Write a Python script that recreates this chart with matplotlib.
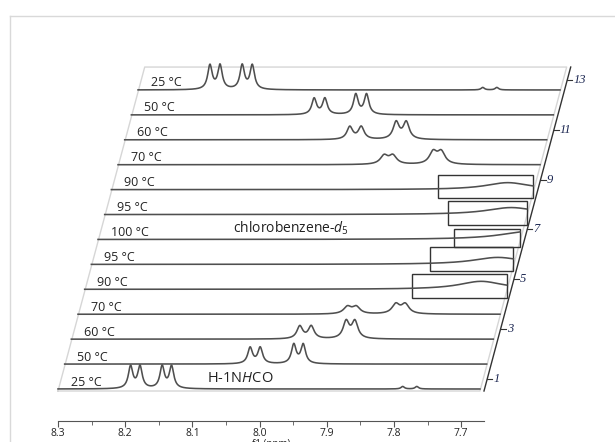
import numpy as np
import matplotlib.pyplot as plt
from matplotlib import transforms
from matplotlib.lines import Line2D
from matplotlib.patches import Rectangle

plt.rcParams['font.family'] = ['Open Sans', 'DejaVu Sans']
plt.rcParams['mathtext.fontset'] = 'custom'
plt.rcParams['mathtext.rm'] = 'Open Sans'
plt.rcParams['mathtext.it'] = 'Open Sans:italic'

# trace labels, bottom to top
temps = ['25 °C', '50 °C', '60 °C', '70 °C', '90 °C', '95 °C', '100 °C',
         '95 °C', '90 °C', '70 °C', '60 °C', '50 °C', '25 °C']

# peak list per trace: position (ppm), height (px), half width (ppm)
peak_pos = [
    [8.192, 8.178, 8.145, 8.131, 7.787, 7.766],
    [8.024, 8.009, 7.959, 7.945],
    [7.960, 7.943, 7.891, 7.878],
    [7.899, 7.886, 7.827, 7.813],
    [7.710],
    [7.695],
    [7.660],
    [7.695],
    [7.710],
    [7.904, 7.891, 7.831, 7.819],
    [7.965, 7.948, 7.896, 7.881],
    [8.028, 8.012, 7.966, 7.950],
    [8.193, 8.178, 8.145, 8.130, 7.787, 7.766],
]
peak_amp = [
    [22, 22, 22, 22, 2.5, 2.5],
    [16, 16, 19, 19],
    [12.5, 12.5, 17, 17],
    [7, 7, 9.5, 9.5],
    [8],
    [7],
    [8],
    [7],
    [7],
    [8.5, 8.5, 12, 12],
    [12.5, 12.5, 17, 17],
    [16, 16, 20, 20],
    [24, 24, 24, 24, 2.5, 2.5],
]
peak_wid = [
    [0.004, 0.004, 0.004, 0.004, 0.003, 0.003],
    [0.0042, 0.0042, 0.0042, 0.0042],
    [0.0052, 0.0052, 0.0054, 0.0054],
    [0.0068, 0.0068, 0.0068, 0.0068],
    [0.04],
    [0.045],
    [0.05],
    [0.045],
    [0.04],
    [0.0068, 0.0068, 0.0068, 0.0068],
    [0.0052, 0.0052, 0.0054, 0.0054],
    [0.0042, 0.0042, 0.0042, 0.0042],
    [0.004, 0.004, 0.004, 0.004, 0.003, 0.003],
]

# highlighted regions (trace index, left ppm, bottom/top px rel. to baseline)
box_trace = [4, 5, 6, 7, 8]
box_left = [7.813, 7.796, 7.770, 7.789, 7.814]
box_low = [-9, -7, -8, -10, -8]
box_high = [15, 17, 10, 14, 15]

offset_ticks = [1, 3, 5, 7, 9, 11, 13]

PPM_MAX, PPM_MIN, PPM_END = 8.30, 7.666, 7.672
DX, DY = 6.67, 24.92
W, H = 615, 442

fig = plt.figure(figsize=(W / 100, H / 100), dpi=100)
ax = fig.add_axes([58 / W, 21 / H, 426 / W, 381 / H])
ax.set_xlim(PPM_MAX, PPM_MIN)
ax.set_ylim(-32, 349)
ax.patch.set_visible(False)


def shifted(k):
    return transforms.offset_copy(ax.transData, fig=fig, x=k * DX, y=k * DY, units='dots')


def disp(ppm, yv, k):
    return shifted(k).transform((ppm, yv))


ppm = np.linspace(PPM_MAX, PPM_END, 1500)
for k in range(len(temps)):
    y = np.zeros_like(ppm)
    for p, a, w in zip(peak_pos[k], peak_amp[k], peak_wid[k]):
        y += a / (1 + ((ppm - p) / w) ** 2)
    ax.plot(ppm, y, color='#4f4f4f', lw=1.15, transform=shifted(k), clip_on=False)
    ax.text(8.281, 7, temps[k], transform=shifted(k), ha='left', va='center',
            fontsize=9, color='#222222', clip_on=False)

for k, left, lo, hi in zip(box_trace, box_left, box_low, box_high):
    ax.add_patch(Rectangle((left, lo), PPM_END - left, hi - lo, transform=shifted(k),
                           fill=False, ec='#333333', lw=1.0, clip_on=False))

ax.text(8.099, 11, 'chlorobenzene-$\\mathit{d}_5$', transform=shifted(6),
        ha='left', va='center', fontsize=10, color='#222222')
ax.text(8.078, 11, 'H-1N$\\mathit{H}$CO', transform=shifted(0),
        ha='left', va='center', fontsize=10.5, color='#222222')

# light frame of the stack
idt = transforms.IdentityTransform()
kt = 13.0
corners = [disp(PPM_MAX, -2, 0), disp(PPM_MAX, -2, kt), disp(PPM_END, -2, kt),
           disp(PPM_END, -2, 0), disp(PPM_MAX, -2, 0)]
fx, fy = zip(*corners)
fig.add_artist(Line2D(fx, fy, color='#d6d6d6', lw=1.0, transform=idt, zorder=0))

# slanted offset axis
a0 = disp(PPM_MIN, -2, 0)
a1 = disp(PPM_MIN, -2, kt)
fig.add_artist(Line2D([a0[0], a1[0]], [a0[1], a1[1]], color='#333333', lw=1.0, transform=idt))
for t in offset_ticks:
    p = disp(PPM_MIN, -2, (t - 1) + 12 / DY)
    fig.add_artist(Line2D([p[0], p[0] + 5], [p[1], p[1]], color='#333333', lw=0.8, transform=idt))
    fig.text(p[0] + 6, p[1], str(t), transform=idt, ha='left', va='center',
             fontsize=9, style='italic', family='Liberation Serif', color='#1a2550')

# outer panel border
fig.add_artist(Line2D([10 / W, 1], [1 - 16 / H, 1 - 16 / H], color='#d9d9d9', lw=1.0))
fig.add_artist(Line2D([10 / W, 10 / W], [0, 1 - 16 / H], color='#d9d9d9', lw=1.0))

for s in ['left', 'right', 'top']:
    ax.spines[s].set_visible(False)
ax.spines['bottom'].set_color('#555555')
ax.yaxis.set_visible(False)
ax.set_xticks(np.arange(7.7, 8.31, 0.1))
ax.set_xticks(np.arange(7.7, 8.31, 0.05), minor=True)
ax.set_xticklabels(['%.1f' % v for v in np.arange(7.7, 8.31, 0.1)])
ax.tick_params(axis='x', which='major', length=4, color='#555555', labelsize=7.5,
               labelcolor='#222222', pad=1)
ax.tick_params(axis='x', which='minor', length=3, color='#555555')
ax.set_xlabel('f1 (ppm)', fontsize=7, color='#222222', labelpad=0)

fig.savefig('out.png', dpi=100)
